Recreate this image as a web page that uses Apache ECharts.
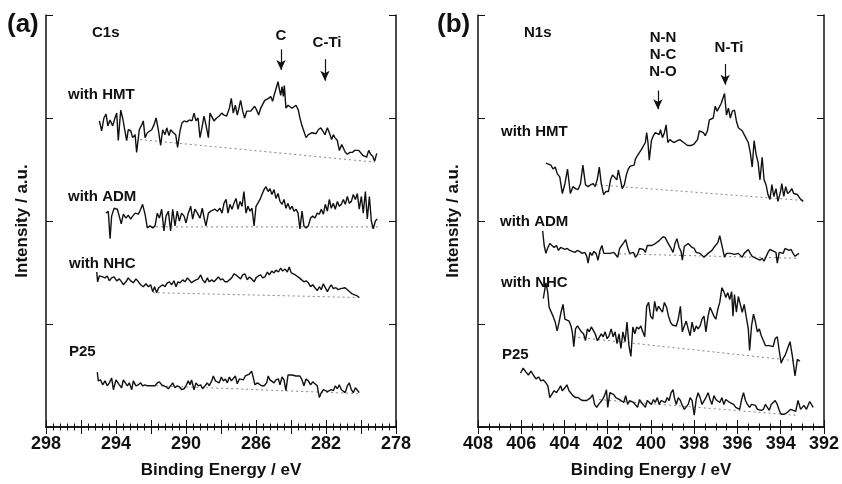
<!DOCTYPE html>
<html>
<head>
<meta charset="utf-8">
<title>XPS C1s / N1s</title>
<script src="https://cdn.jsdelivr.net/npm/echarts@6.0.0/dist/echarts.min.js"></script>
<style>
  html, body { margin: 0; padding: 0; background: #fff; }
  #box { width: 842px; height: 484px; }
</style>
</head>
<body>
<div id="box"></div>
<script>
/* data: [binding energy (eV), intensity (a.u.)] */

// (a) C1s
const c1sHMT = [[294.95,312],[294.82,302],[294.69,315],[294.57,319],[294.46,307],[294.34,313],[294.19,307],[294.06,315],[293.96,320],[293.87,292],[293.73,323],[293.62,315],[293.49,302],[293.39,292],[293.30,303],[293.16,302],[293.05,295],[292.91,298],[292.82,280],[292.67,303],[292.53,308],[292.44,312],[292.34,295],[292.21,300],[292.10,298],[291.96,303],[291.83,308],[291.71,315],[291.58,303],[291.45,287],[291.33,303],[291.20,298],[291.10,305],[290.97,297],[290.88,303],[290.72,300],[290.59,298],[290.48,285],[290.34,302],[290.23,310],[290.11,312],[289.96,311],[289.81,313],[289.66,312],[289.54,320],[289.43,312],[289.31,315],[289.20,295],[289.09,305],[288.97,317],[288.86,308],[288.72,295],[288.63,320],[288.53,322],[288.40,312],[288.25,315],[288.10,317],[287.96,320],[287.83,318],[287.68,317],[287.52,325],[287.41,335],[287.30,320],[287.18,328],[287.07,318],[286.95,327],[286.88,333],[286.76,322],[286.65,315],[286.53,322],[286.42,320],[286.30,322],[286.19,323],[286.08,327],[285.96,323],[285.85,318],[285.73,325],[285.62,327],[285.50,333],[285.39,332],[285.28,335],[285.16,337],[285.05,332],[284.97,338],[284.86,340],[284.74,352],[284.67,345],[284.59,338],[284.51,347],[284.44,337],[284.38,348],[284.29,325],[284.17,328],[284.06,327],[283.94,325],[283.83,327],[283.71,328],[283.58,323],[283.49,315],[283.37,307],[283.26,305],[283.14,295],[283.01,298],[282.91,297],[282.80,300],[282.69,298],[282.57,299],[282.44,303],[282.30,305],[282.19,302],[282.06,298],[281.92,305],[281.81,300],[281.68,293],[281.58,298],[281.49,295],[281.35,292],[281.24,282],[281.10,288],[281.01,287],[280.90,280],[280.78,278],[280.63,280],[280.48,280],[280.36,282],[280.25,284],[280.13,282],[280.02,281],[279.90,277],[279.79,278],[279.68,275],[279.56,282],[279.45,278],[279.33,276],[279.22,271],[279.10,279]]
const c1sADM = [[294.57,218],[294.44,220],[294.34,192],[294.25,215],[294.11,223],[294.00,225],[293.92,222],[293.81,224],[293.70,207],[293.58,217],[293.43,213],[293.30,216],[293.16,212],[293.05,215],[292.90,218],[292.72,217],[292.59,222],[292.48,227],[292.34,217],[292.21,203],[292.06,205],[291.90,203],[291.77,205],[291.64,218],[291.52,213],[291.39,222],[291.26,200],[291.14,215],[291.01,220],[290.88,200],[290.76,222],[290.63,205],[290.50,220],[290.38,210],[290.25,218],[290.11,215],[290.00,208],[289.87,218],[289.73,225],[289.62,212],[289.49,222],[289.35,218],[289.20,213],[289.07,223],[288.95,212],[288.86,205],[288.72,218],[288.59,220],[288.48,218],[288.34,222],[288.21,220],[288.06,223],[287.94,218],[287.83,228],[287.71,232],[287.60,218],[287.49,227],[287.37,222],[287.26,228],[287.14,233],[287.03,222],[286.91,230],[286.80,225],[286.69,240],[286.57,218],[286.46,225],[286.34,220],[286.23,223],[286.11,205],[286.00,225],[285.89,227],[285.77,232],[285.66,237],[285.54,242],[285.43,245],[285.31,240],[285.20,243],[285.09,237],[284.97,242],[284.86,233],[284.74,238],[284.63,230],[284.51,227],[284.40,232],[284.29,223],[284.17,228],[284.06,222],[283.94,225],[283.83,220],[283.71,222],[283.60,218],[283.49,202],[283.37,220],[283.26,205],[283.14,203],[283.01,205],[282.88,213],[282.76,215],[282.63,213],[282.50,218],[282.38,217],[282.27,222],[282.15,217],[282.04,227],[281.92,220],[281.81,232],[281.70,223],[281.58,228],[281.47,222],[281.35,230],[281.24,225],[281.12,227],[281.01,232],[280.90,227],[280.78,235],[280.67,228],[280.55,230],[280.44,237],[280.32,232],[280.21,238],[280.10,222],[279.98,235],[279.87,218],[279.75,240],[279.64,212],[279.52,235],[279.41,210],[279.30,202],[279.18,210],[279.07,212]]
const c1sNHC = [[295.10,158],[295.05,148],[294.95,154],[294.88,155],[294.76,153],[294.63,152],[294.50,154],[294.38,149],[294.25,152],[294.11,153],[293.96,149],[293.81,151],[293.68,148],[293.58,145],[293.43,148],[293.30,152],[293.16,149],[293.01,147],[292.86,151],[292.72,148],[292.59,145],[292.44,143],[292.29,146],[292.15,143],[292.02,145],[291.90,138],[291.79,143],[291.68,137],[291.56,142],[291.45,140],[291.33,145],[291.20,143],[291.07,147],[290.95,148],[290.82,145],[290.69,149],[290.57,143],[290.46,148],[290.34,147],[290.19,150],[290.06,148],[289.92,152],[289.81,150],[289.68,147],[289.54,149],[289.43,147],[289.30,151],[289.16,155],[289.05,150],[288.91,147],[288.78,152],[288.67,148],[288.53,150],[288.40,148],[288.29,150],[288.15,153],[288.02,150],[287.90,151],[287.77,148],[287.64,148],[287.52,150],[287.39,152],[287.26,156],[287.14,155],[287.01,153],[286.88,151],[286.76,155],[286.63,156],[286.50,150],[286.38,153],[286.25,151],[286.11,148],[286.00,152],[285.87,154],[285.73,155],[285.62,152],[285.49,153],[285.35,158],[285.24,155],[285.10,159],[284.97,157],[284.86,160],[284.72,158],[284.59,162],[284.48,159],[284.34,161],[284.21,158],[284.10,163],[283.98,157],[283.87,158],[283.75,155],[283.64,153],[283.52,152],[283.39,150],[283.26,148],[283.14,149],[283.01,147],[282.88,143],[282.76,145],[282.63,142],[282.50,139],[282.38,143],[282.27,140],[282.15,146],[282.04,142],[281.92,138],[281.81,142],[281.70,145],[281.58,141],[281.43,142],[281.30,140],[281.16,141],[281.05,142],[280.91,142],[280.78,140],[280.67,138],[280.53,136],[280.40,135],[280.25,134],[280.10,132]]
const c1sP25 = [[295.07,56],[295.01,47],[294.88,48],[294.76,43],[294.63,47],[294.50,42],[294.38,45],[294.25,50],[294.15,38],[294.00,48],[293.92,50],[293.81,43],[293.68,40],[293.58,48],[293.49,50],[293.35,42],[293.24,45],[293.10,38],[293.01,47],[292.86,42],[292.72,43],[292.59,45],[292.48,42],[292.34,43],[292.21,42],[292.06,42],[291.90,42],[291.77,42],[291.64,45],[291.52,46],[291.39,43],[291.26,42],[291.14,41],[291.01,39],[290.88,42],[290.76,45],[290.63,40],[290.50,42],[290.38,41],[290.25,38],[290.11,39],[290.00,42],[289.87,47],[289.77,43],[289.68,48],[289.54,38],[289.43,45],[289.30,42],[289.16,43],[289.05,39],[288.91,42],[288.78,45],[288.67,42],[288.53,47],[288.44,52],[288.32,47],[288.21,48],[288.10,45],[287.98,51],[287.87,47],[287.75,49],[287.64,45],[287.52,51],[287.41,47],[287.30,48],[287.18,52],[287.07,44],[286.95,49],[286.84,50],[286.72,48],[286.61,52],[286.50,53],[286.38,54],[286.25,57],[286.15,50],[286.06,43],[285.92,45],[285.81,43],[285.68,42],[285.54,42],[285.39,45],[285.30,52],[285.20,48],[285.09,50],[284.97,45],[284.86,48],[284.72,49],[284.63,43],[284.51,51],[284.40,48],[284.29,37],[284.17,53],[284.06,52],[283.94,53],[283.83,52],[283.71,52],[283.60,51],[283.49,52],[283.37,48],[283.26,42],[283.14,49],[283.01,47],[282.88,43],[282.76,46],[282.63,44],[282.50,42],[282.38,30],[282.27,35],[282.15,38],[282.04,40],[281.92,36],[281.81,35],[281.70,38],[281.58,37],[281.47,42],[281.35,39],[281.24,43],[281.12,38],[281.01,40],[280.90,35],[280.78,42],[280.67,45],[280.55,38],[280.44,35],[280.32,40],[280.21,38],[280.10,35]]
// dotted backgrounds
const c1sBgHMT = [[292.63,293],[279.2,270]]
const c1sBgADM = [[292.0,204],[279.0,204]]
const c1sBgNHC = [[291.9,137],[280.1,132]]
const c1sBgP25 = [[291.7,42],[280.1,34]]

// (b) N1s
const n1sHMT = [[404.86,269],[404.74,268],[404.63,267],[404.53,263],[404.43,265],[404.33,258],[404.22,255],[404.10,238],[403.98,248],[403.86,263],[403.73,238],[403.61,245],[403.49,243],[403.37,242],[403.26,248],[403.15,267],[403.03,247],[402.91,245],[402.79,247],[402.67,248],[402.58,245],[402.48,253],[402.39,265],[402.30,248],[402.19,237],[402.09,240],[401.97,240],[401.87,252],[401.78,257],[401.69,255],[401.58,252],[401.51,262],[401.42,253],[401.33,243],[401.23,247],[401.14,257],[401.05,263],[400.96,266],[400.87,268],[400.78,267],[400.72,273],[400.62,277],[400.53,275],[400.44,283],[400.35,285],[400.26,290],[400.20,300],[400.14,290],[400.08,272],[399.98,292],[399.89,297],[399.80,300],[399.71,302],[399.62,298],[399.56,303],[399.47,295],[399.38,300],[399.30,308],[399.22,290],[399.13,293],[399.04,293],[398.95,290],[398.86,291],[398.77,292],[398.67,293],[398.58,292],[398.49,290],[398.40,288],[398.31,287],[398.22,288],[398.13,287],[398.03,288],[397.94,287],[397.85,293],[397.76,302],[397.67,303],[397.58,300],[397.49,297],[397.39,302],[397.30,313],[397.21,312],[397.12,315],[397.03,327],[396.94,322],[396.85,323],[396.75,330],[396.66,328],[396.60,340],[396.51,318],[396.42,325],[396.33,315],[396.24,322],[396.14,323],[396.05,312],[395.96,305],[395.87,303],[395.78,302],[395.69,298],[395.60,300],[395.50,290],[395.41,280],[395.32,265],[395.23,292],[395.14,278],[395.05,270],[394.96,252],[394.86,275],[394.77,252],[394.68,247],[394.59,237],[394.50,232],[394.41,247],[394.32,235],[394.22,243],[394.13,230],[394.07,228],[394.01,240],[393.95,248],[393.86,235],[393.77,245],[393.68,238],[393.58,240],[393.49,243],[393.40,238],[393.31,240],[393.23,237],[393.11,233],[392.96,230]]
const n1sADM = [[405.01,200],[404.94,185],[404.86,177],[404.77,183],[404.68,187],[404.59,185],[404.48,183],[404.37,185],[404.28,180],[404.18,183],[404.10,184],[403.98,181],[403.87,182],[403.76,180],[403.64,179],[403.52,178],[403.41,180],[403.31,179],[403.18,177],[403.06,178],[402.97,174],[402.91,167],[402.82,178],[402.73,175],[402.64,179],[402.54,177],[402.45,170],[402.36,180],[402.27,185],[402.18,177],[402.09,178],[402.00,177],[401.90,177],[401.81,175],[401.72,178],[401.63,177],[401.54,173],[401.45,182],[401.36,180],[401.26,188],[401.17,191],[401.08,183],[400.99,177],[400.90,177],[400.81,178],[400.72,173],[400.62,176],[400.53,182],[400.44,183],[400.35,181],[400.26,178],[400.17,185],[400.08,186],[399.98,185],[399.89,183],[399.80,187],[399.71,187],[399.62,190],[399.53,192],[399.44,194],[399.34,193],[399.25,189],[399.16,187],[399.07,182],[398.98,178],[398.89,187],[398.80,192],[398.70,183],[398.61,179],[398.55,170],[398.46,184],[398.37,186],[398.28,187],[398.19,185],[398.10,183],[398.00,182],[397.91,178],[397.82,177],[397.73,177],[397.64,175],[397.55,173],[397.46,173],[397.36,177],[397.27,178],[397.18,180],[397.09,183],[397.00,185],[396.91,188],[396.82,195],[396.72,185],[396.66,179],[396.60,173],[396.51,177],[396.42,178],[396.33,177],[396.24,177],[396.14,176],[396.05,175],[395.96,177],[395.87,175],[395.78,173],[395.69,177],[395.60,178],[395.50,181],[395.41,177],[395.32,174],[395.23,173],[395.14,172],[395.05,171],[394.96,170],[394.86,172],[394.77,169],[394.68,171],[394.59,178],[394.50,181],[394.41,182],[394.32,179],[394.22,178],[394.16,167],[394.07,178],[393.98,180],[393.89,177],[393.80,182],[393.71,183],[393.62,180],[393.52,181],[393.43,177],[393.34,174],[393.16,177]]
const n1sNHC = [[404.98,131],[404.86,147],[404.78,138],[404.71,122],[404.62,120],[404.53,113],[404.43,107],[404.34,98],[404.25,107],[404.16,117],[404.07,125],[403.98,110],[403.89,112],[403.79,108],[403.70,103],[403.64,97],[403.57,82],[403.49,100],[403.40,103],[403.31,105],[403.22,97],[403.12,95],[403.03,88],[402.94,100],[402.85,97],[402.76,102],[402.67,102],[402.58,95],[402.48,88],[402.39,87],[402.30,95],[402.21,92],[402.12,97],[402.03,90],[401.94,93],[401.84,100],[401.75,92],[401.66,97],[401.57,85],[401.48,95],[401.39,80],[401.30,97],[401.20,87],[401.11,107],[401.02,83],[400.93,72],[400.84,102],[400.75,95],[400.66,102],[400.56,100],[400.47,103],[400.38,97],[400.29,92],[400.20,123],[400.11,127],[400.02,113],[399.92,110],[399.83,128],[399.74,118],[399.65,123],[399.56,125],[399.47,117],[399.38,127],[399.28,122],[399.19,113],[399.10,107],[399.01,104],[398.92,104],[398.83,103],[398.74,110],[398.64,123],[398.55,97],[398.46,103],[398.37,108],[398.28,100],[398.19,93],[398.10,107],[398.00,97],[397.91,103],[397.82,100],[397.73,103],[397.64,110],[397.55,113],[397.46,97],[397.36,113],[397.27,122],[397.18,123],[397.09,113],[397.00,110],[396.91,120],[396.82,127],[396.72,142],[396.63,138],[396.54,132],[396.45,137],[396.36,130],[396.27,138],[396.21,113],[396.14,135],[396.05,117],[395.96,133],[395.87,125],[395.78,117],[395.69,125],[395.60,113],[395.50,100],[395.44,78],[395.35,103],[395.26,115],[395.17,107],[395.08,97],[394.99,100],[394.90,93],[394.80,88],[394.71,83],[394.62,82],[394.53,83],[394.44,85],[394.35,82],[394.26,90],[394.16,92],[394.07,78],[393.98,65],[393.89,70],[393.80,73],[393.71,75],[393.57,87],[393.46,72],[393.34,52],[393.23,69],[393.11,67]]
const n1sP25 = [[406.03,55],[405.91,60],[405.78,56],[405.67,53],[405.55,57],[405.44,53],[405.32,49],[405.20,51],[405.09,47],[404.98,48],[404.86,45],[404.77,42],[404.68,30],[404.59,32],[404.48,37],[404.37,35],[404.28,38],[404.18,42],[404.10,37],[403.98,40],[403.89,43],[403.79,37],[403.70,36],[403.61,32],[403.49,30],[403.37,30],[403.26,28],[403.15,27],[403.06,28],[402.97,27],[402.88,27],[402.79,30],[402.70,33],[402.61,23],[402.51,20],[402.42,23],[402.33,25],[402.24,28],[402.15,32],[402.06,38],[402.00,20],[401.90,35],[401.81,37],[401.72,33],[401.63,30],[401.54,32],[401.45,28],[401.36,27],[401.26,25],[401.17,32],[401.08,23],[400.99,27],[400.90,28],[400.81,25],[400.72,23],[400.62,20],[400.53,28],[400.44,25],[400.35,23],[400.26,20],[400.17,27],[400.08,28],[399.98,23],[399.89,28],[399.80,25],[399.71,30],[399.62,23],[399.53,27],[399.44,28],[399.34,25],[399.25,30],[399.16,27],[399.07,35],[398.98,38],[398.92,30],[398.83,23],[398.74,30],[398.64,27],[398.55,22],[398.46,18],[398.37,17],[398.28,23],[398.19,30],[398.10,27],[398.00,12],[397.91,28],[397.82,35],[397.73,30],[397.64,23],[397.55,25],[397.46,30],[397.36,35],[397.27,28],[397.18,23],[397.09,32],[397.00,28],[396.91,30],[396.82,25],[396.72,30],[396.63,23],[396.54,28],[396.45,30],[396.36,25],[396.27,27],[396.18,23],[396.08,20],[395.99,22],[395.90,18],[395.81,28],[395.72,35],[395.63,27],[395.54,23],[395.44,20],[395.35,23],[395.26,25],[395.17,22],[395.08,18],[394.99,20],[394.90,17],[394.80,18],[394.71,23],[394.62,20],[394.53,17],[394.44,23],[394.35,25],[394.26,27],[394.16,23],[394.07,17],[393.98,13],[393.84,13],[393.69,15],[393.54,18],[393.31,16],[393.20,27],[393.08,18],[392.93,22],[392.81,18],[392.66,26],[392.50,20]]
const n1sBgHMT = [[402.55,247],[393.0,231]]
const n1sBgADM = [[402.4,177],[393.2,172]]
const n1sBgNHC = [[403.6,92],[393.1,67]]
const n1sBgP25 = [[402.4,28],[393.3,12]]

// peak markers: [energy, arrow top, arrow tip]
const c1sMarks = [[284.57, 385, 364], [282.06, 375, 353]]
const n1sMarks = [[399.68, 343, 324], [396.57, 370, 349]]

const FONT = 'Liberation Sans'
const BLACK = '#111'

function xAxes (grid, min, max, minorSplit, labelFn) {
  const base = {
    gridIndex: grid,
    type: 'value',
    min: min,
    max: max,
    interval: 2,
    inverse: true,
    axisLine: { lineStyle: { color: BLACK, width: 1.5 } },
    axisTick: { inside: true, length: 7, lineStyle: { color: BLACK, width: 1 } },
    minorTick: { show: true, splitNumber: minorSplit, length: 3.5, lineStyle: { color: BLACK, width: 1 } },
    splitLine: { show: false },
    minorSplitLine: { show: false }
  }
  return [
    {
      ...base,
      position: 'bottom',
      name: 'Binding Energy / eV',
      nameLocation: 'middle',
      nameGap: 35,
      nameTextStyle: { fontFamily: FONT, fontWeight: 'bold', fontSize: 17, color: BLACK },
      axisLabel: { margin: 8, fontFamily: FONT, fontWeight: 'bold', fontSize: 18, color: BLACK, formatter: labelFn, showMinLabel: true, showMaxLabel: true }
    },
    { ...base, position: 'top', axisLabel: { show: false } }
  ]
}

function yAxes (grid, gap) {
  const base = {
    gridIndex: grid,
    type: 'value',
    min: 0,
    max: 420,
    interval: 105,
    axisLine: { lineStyle: { color: BLACK, width: 1.5 } },
    axisTick: { inside: true, length: 7, lineStyle: { color: BLACK, width: 1 } },
    axisLabel: { show: false },
    splitLine: { show: false }
  }
  return [
    {
      ...base,
      position: 'left',
      name: 'Intensity / a.u.',
      nameLocation: 'middle',
      nameGap: gap,
      nameRotate: 90,
      nameTextStyle: { fontFamily: FONT, fontWeight: 'bold', fontSize: 17, color: BLACK }
    },
    { ...base, position: 'right' }
  ]
}

function spectrum (data, ax) {
  return {
    type: 'line', data: data, xAxisIndex: ax, yAxisIndex: ax,
    showSymbol: false, silent: true, animation: false,
    lineStyle: { color: BLACK, width: 1.4 }
  }
}

function background (data, ax) {
  return {
    type: 'line', data: data, xAxisIndex: ax, yAxisIndex: ax,
    showSymbol: false, silent: true, animation: false, z: 1,
    lineStyle: { color: '#666', width: 0.8, type: [2, 3] }
  }
}

// arrows drawn as markLines on an empty series, in data coordinates
function arrows (marks, ax) {
  return {
    type: 'line', data: [], xAxisIndex: ax, yAxisIndex: ax, silent: true, animation: false,
    markLine: {
      silent: true,
      animation: false,
      symbol: ['none', 'arrow'],
      symbolSize: [7, 10],
      label: { show: false },
      lineStyle: { color: BLACK, width: 1.2, type: 'solid' },
      data: marks.map(m => [{ coord: [m[0], m[1]] }, { coord: [m[0], m[2]] }])
    }
  }
}

function txt (text, x, y, size, align) {
  return {
    type: 'text', x: x, y: y, silent: true,
    style: { text: text, font: 'bold ' + size + 'px ' + FONT, fill: BLACK, textAlign: align || 'left', textVerticalAlign: 'middle' }
  }
}

const chart = echarts.init(document.getElementById('box'), null, { renderer: 'canvas' })

const option = {
  backgroundColor: '#fff',
  animation: false,
  grid: [
    { left: 46, top: 15, width: 350, height: 420 },
    { left: 478, top: 15, width: 350, height: 420 }
  ],
  xAxis: [
    ...xAxes(0, 278, 298, 5, v => (v % 4 === 2 ? String(v) : '')),
    ...xAxes(1, 392, 408, 4, v => String(v))
  ],
  yAxis: [...yAxes(0, 15), ...yAxes(1, 16)],
  series: [
    background(c1sBgHMT, 0), background(c1sBgADM, 0), background(c1sBgNHC, 0), background(c1sBgP25, 0),
    spectrum(c1sHMT, 0), spectrum(c1sADM, 0), spectrum(c1sNHC, 0), spectrum(c1sP25, 0),
    arrows(c1sMarks, 0),
    background(n1sBgHMT, 2), background(n1sBgADM, 2), background(n1sBgNHC, 2), background(n1sBgP25, 2),
    spectrum(n1sHMT, 2), spectrum(n1sADM, 2), spectrum(n1sNHC, 2), spectrum(n1sP25, 2),
    arrows(n1sMarks, 2)
  ],
  graphic: [
    txt('(a)', 7, 25, 26),
    txt('(b)', 437, 25, 26),
    txt('C1s', 92, 33, 15),
    txt('C', 281, 36, 15, 'center'),
    txt('C-Ti', 327, 43, 15, 'center'),
    txt('with HMT', 68, 95, 15),
    txt('with ADM', 68, 197, 15),
    txt('with NHC', 69, 264, 15),
    txt('P25', 69, 352, 15),
    txt('N1s', 524, 33, 15),
    txt('N-N', 663, 38, 15, 'center'),
    txt('N-C', 663, 55, 15, 'center'),
    txt('N-O', 663, 72, 15, 'center'),
    txt('N-Ti', 729, 48, 15, 'center'),
    txt('with HMT', 501, 132, 15),
    txt('with ADM', 500, 222, 15),
    txt('with NHC', 501, 283, 15),
    txt('P25', 502, 355, 15)
  ]
}

chart.setOption(option)
</script>
</body>
</html>
